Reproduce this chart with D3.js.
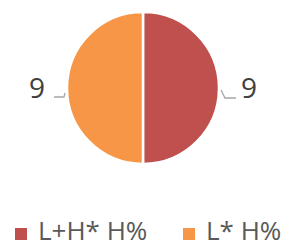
<!DOCTYPE html>
<html>
<head>
<meta charset="utf-8">
<script src="https://cdn.jsdelivr.net/npm/d3@7"></script>
<style>
  body { margin: 0; background: #fff; }
  svg { display: block; font-family: "Open Sans", sans-serif; }
</style>
</head>
<body>
<script>
// chart values
const categories = ["L+H* H%", "L* H%"];
const values = [9, 9];
const colors = ["#c0504d", "#f79646"];

const width = 286,
    height = 247,
    radius = 76,
    cx = 143,
    cy = 88;

const svg = d3.select('body').append('svg')
    .attr('width', width)
    .attr('height', height);

const g = svg.append('g')
    .attr('transform', `translate(${cx}, ${cy})`);

const color = d3.scaleOrdinal().domain(categories).range(colors);

const pie = d3.pie()
    .value(d => d.value)
    .sort(null);

const arc = d3.arc()
    .innerRadius(0)
    .outerRadius(radius);

const data = categories.map((c, i) => ({ name: c, value: values[i] }));
const arcs = pie(data);

g.selectAll('path.slice')
    .data(arcs)
    .enter().append('path')
    .attr('class', 'slice')
    .attr('d', arc)
    .style('fill', d => color(d.data.name))
    .style('stroke', '#fff')
    .style('stroke-width', 2.5);

function midAngle(d) {
    return d.startAngle + (d.endAngle - d.startAngle) / 2;
}

/* ------- leader lines and labels ------- */
g.selectAll('polyline')
    .data(arcs)
    .enter().append('polyline')
    .attr('points', d => {
        const side = midAngle(d) < Math.PI ? 1 : -1;
        if (side < 0) {
            return [[side * (radius + 2), 5], [side * (radius + 3), 9], [side * (radius + 13), 9]];
        }
        return [[side * (radius + 2), 2], [side * (radius + 6), 10], [side * (radius + 17), 10]];
    })
    .style('fill', 'none')
    .style('stroke', '#a6a6a6')
    .style('stroke-width', 1.3);

g.selectAll('text.label')
    .data(arcs)
    .enter().append('text')
    .attr('class', 'label')
    .attr('x', d => (midAngle(d) < Math.PI ? 1 : -1) * (radius + 22))
    .attr('y', 10)
    .attr('text-anchor', d => midAngle(d) < Math.PI ? 'start' : 'end')
    .style('font-size', '28px')
    .style('fill', '#404040')
    .text(d => d.data.value);

/* ------- legend ------- */
const legendX = [15, 183];
const legend = svg.append('g').selectAll('g')
    .data(categories)
    .enter().append('g')
    .attr('transform', (d, i) => `translate(${legendX[i]}, 228)`);

legend.append('rect')
    .attr('width', 12)
    .attr('height', 12)
    .style('fill', d => color(d));

legend.append('text')
    .attr('x', 23)
    .attr('y', 12)
    .style('font-size', '26px')
    .style('fill', '#595959')
    .text(d => d);
</script>
</body>
</html>
